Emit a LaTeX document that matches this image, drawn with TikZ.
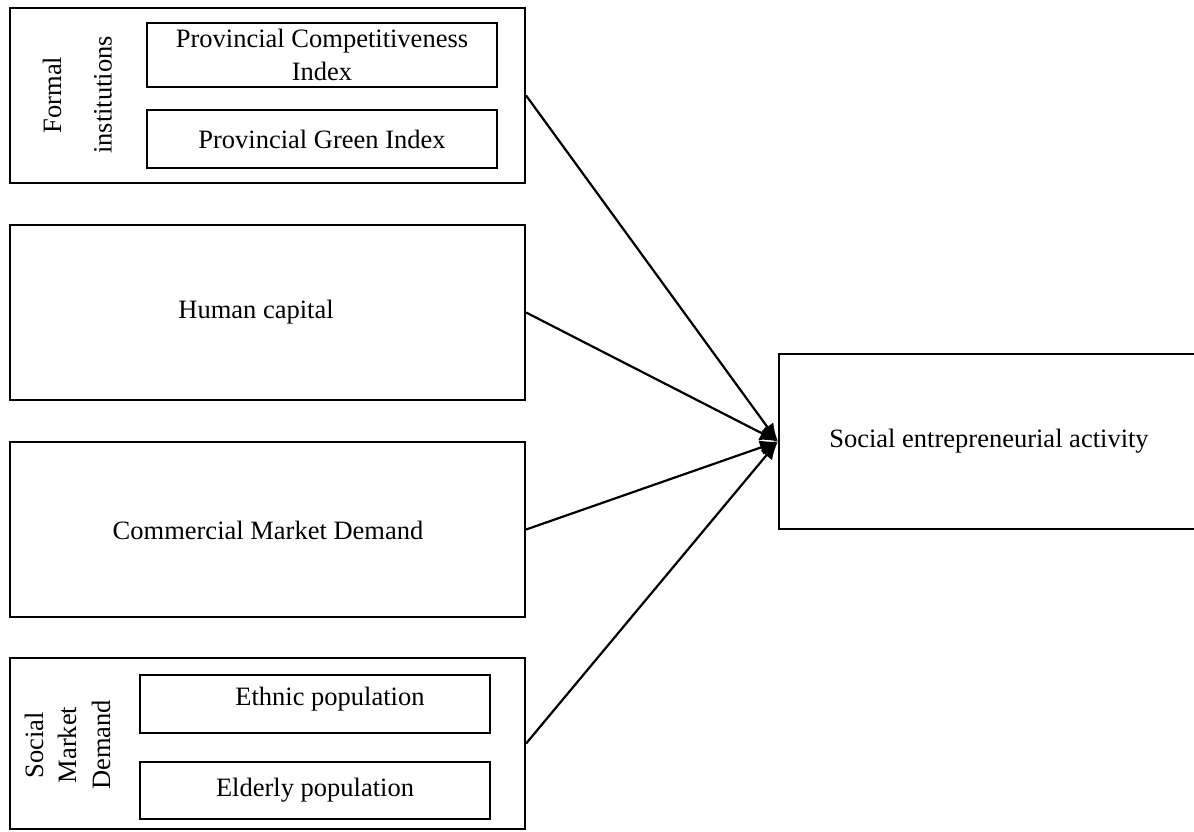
\documentclass[tikz,border=0pt]{standalone}
\usepackage{fontspec}
\setmainfont{Liberation Serif}
\usetikzlibrary{arrows.meta}
\begin{document}
\begin{tikzpicture}[x=1pt,y=-1pt,
  box/.style={draw,line width=2.2pt,inner sep=0pt,font=\fontsize{26.5}{33}\selectfont,align=center},
  txt/.style={font=\fontsize{26.5}{33}\selectfont,align=center,inner sep=0pt},
  conn/.style={line width=2.2pt,-{Latex[length=18pt,width=15pt]}}]
\useasboundingbox (0,0) rectangle (1194,832);
% left outer boxes
\node[box,minimum width=515pt,minimum height=175pt] (fi) at (267.5,95.5) {};
\node[box,minimum width=515pt,minimum height=175pt] (hc) at (267.5,312.5) {};
\node[box,minimum width=515pt,minimum height=175pt] (cmd) at (267.5,529.5) {};
\node[box,minimum width=515pt,minimum height=171pt] (smd) at (267.5,743.5) {};
% texts of middle boxes
\node[txt] (hct) at (256,312) {Human capital};
\node[txt] (cmdt) at (268,530) {Commercial Market Demand};
% formal institutions
\node[txt,rotate=90] (fi1) at (52,95) {Formal};
\node[txt,rotate=90] (fi2) at (103,95) {institutions};
\node[box,minimum width=350pt,minimum height=64pt] (pci) at (322,55) {Provincial Competitiveness\\Index};
\node[box,minimum width=350pt,minimum height=58pt] (pgi) at (322,139) {Provincial Green Index};
% social market demand
\node[txt,rotate=90] (sm1) at (34,745) {Social};
\node[txt,rotate=90] (sm2) at (67,745) {Market};
\node[txt,rotate=90] (sm3) at (101,745) {Demand};
\node[box,minimum width=350pt,minimum height=58pt] (ep) at (315,704) {};
\node[txt] (ept) at (330,699) {Ethnic population};
\node[box,minimum width=350pt,minimum height=57pt] (elp) at (315,790.5) {Elderly population};
% right box
\node[box,minimum width=420pt,minimum height=175pt] (sea) at (989,441.5) {Social entrepreneurial activity};
% connectors
\draw[conn] (fi.east) -- (sea.west);
\draw[conn] (hc.east) -- (sea.west);
\draw[conn] (cmd.east) -- (sea.west);
\draw[conn] (smd.east) -- (sea.west);
\end{tikzpicture}
\end{document}
